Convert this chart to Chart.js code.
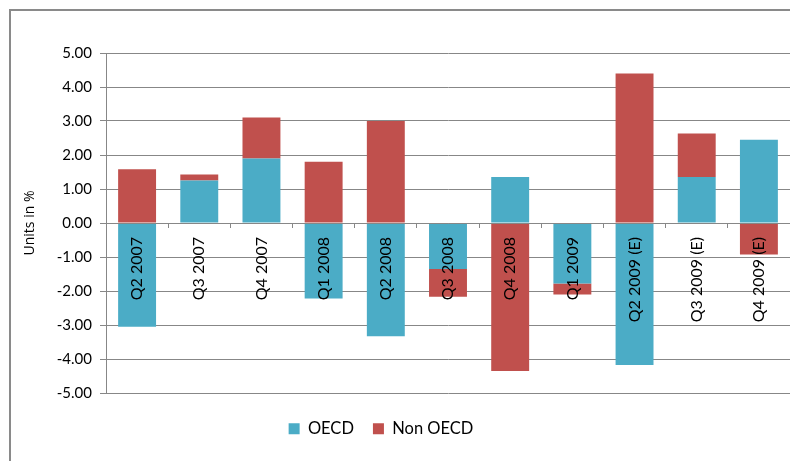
<!DOCTYPE html>
<html>
<head>
<meta charset="utf-8">
<title>OECD / Non OECD</title>
<script src="https://cdn.jsdelivr.net/npm/chart.js@4.4.1/dist/chart.umd.min.js"></script>
<style>
  html, body { margin: 0; padding: 0; background: #fff; }
  #wrap { position: relative; width: 790px; height: 461px; overflow: hidden; }
  #frame { position: absolute; left: 9px; top: 9px; width: 800px; height: 470px; border: 2px solid #8a8a8a; box-sizing: border-box; }
  #chart { position: absolute; left: 0; top: 0; }
</style>
</head>
<body>
<div id="wrap">
  <div id="frame"></div>
  <canvas id="chart" width="790" height="461"></canvas>
</div>
<script>
// quarterly change, percentage points
const quarters = ["Q2 2007", "Q3 2007", "Q4 2007", "Q1 2008", "Q2 2008", "Q3 2008",
  "Q4 2008", "Q1 2009", "Q2 2009 (E)", "Q3 2009 (E)", "Q4 2009 (E)"];
const oecd = [-3.05, 1.25, 1.90, -2.22, -3.33, -1.35, 1.35, -1.78, -4.18, 1.35, 2.45];
const nonOecd = [1.58, 0.18, 1.20, 1.80, 3.00, -0.82, -4.35, -0.32, 4.40, 1.28, -0.93];

const yMin = -5;
const yMax = 5;
const yStep = 1;

const gridGray = "#878787";
const tickFont = { family: "Lato", size: 15 };

// push the legend a little left and down from where the layout puts it
const legendNudge = {
  id: "legendNudge",
  afterLayout(chart) {
    const lg = chart.legend;
    lg.left -= 14;
    lg.right -= 14;
    lg.top += 8.5;
    lg.bottom += 8.5;
  }
};

new Chart(document.getElementById("chart"), {
  type: "bar",
  data: {
    labels: quarters,
    datasets: [
      { label: "OECD", data: oecd, backgroundColor: "#4bacc6" },
      { label: "Non OECD", data: nonOecd, backgroundColor: "#c0504d" }
    ]
  },
  options: {
    responsive: false,
    animation: false,
    layout: { padding: { top: 53, right: 0, bottom: 22.5, left: 0 } },
    datasets: {
      bar: { barPercentage: 0.61, categoryPercentage: 1, borderWidth: 0 }
    },
    plugins: {
      legend: {
        position: "bottom",
        labels: {
          boxWidth: 11,
          boxHeight: 11,
          padding: 19,
          color: "#000",
          font: { family: "Lato", size: 16.5 }
        }
      },
      tooltip: { enabled: false }
    },
    scales: {
      x: {
        stacked: true,
        position: { y: 0 },
        // axis line, ticks and quarter names sit on top of the bars
        grid: { drawOnChartArea: false, tickLength: 4, color: gridGray, z: 1 },
        border: { color: gridGray, z: 1 },
        ticks: {
          minRotation: 90,
          maxRotation: 90,
          autoSkip: false,
          padding: 10,
          color: "#000",
          font: { family: "Lato", size: 16 },
          z: 2
        }
      },
      y: {
        stacked: true,
        min: yMin,
        max: yMax,
        afterFit(scale) { scale.width = 106; },
        grid: { color: gridGray, tickLength: 6 },
        border: { color: gridGray },
        ticks: {
          stepSize: yStep,
          padding: 8,
          color: "#000",
          font: tickFont,
          callback: (v) => v.toFixed(2)
        },
        title: {
          display: true,
          text: "Units in %",
          color: "#000",
          font: { family: "Open Sans", size: 14 },
          padding: { top: 22, bottom: 0 }
        }
      }
    }
  },
  plugins: [legendNudge]
});
</script>
</body>
</html>
